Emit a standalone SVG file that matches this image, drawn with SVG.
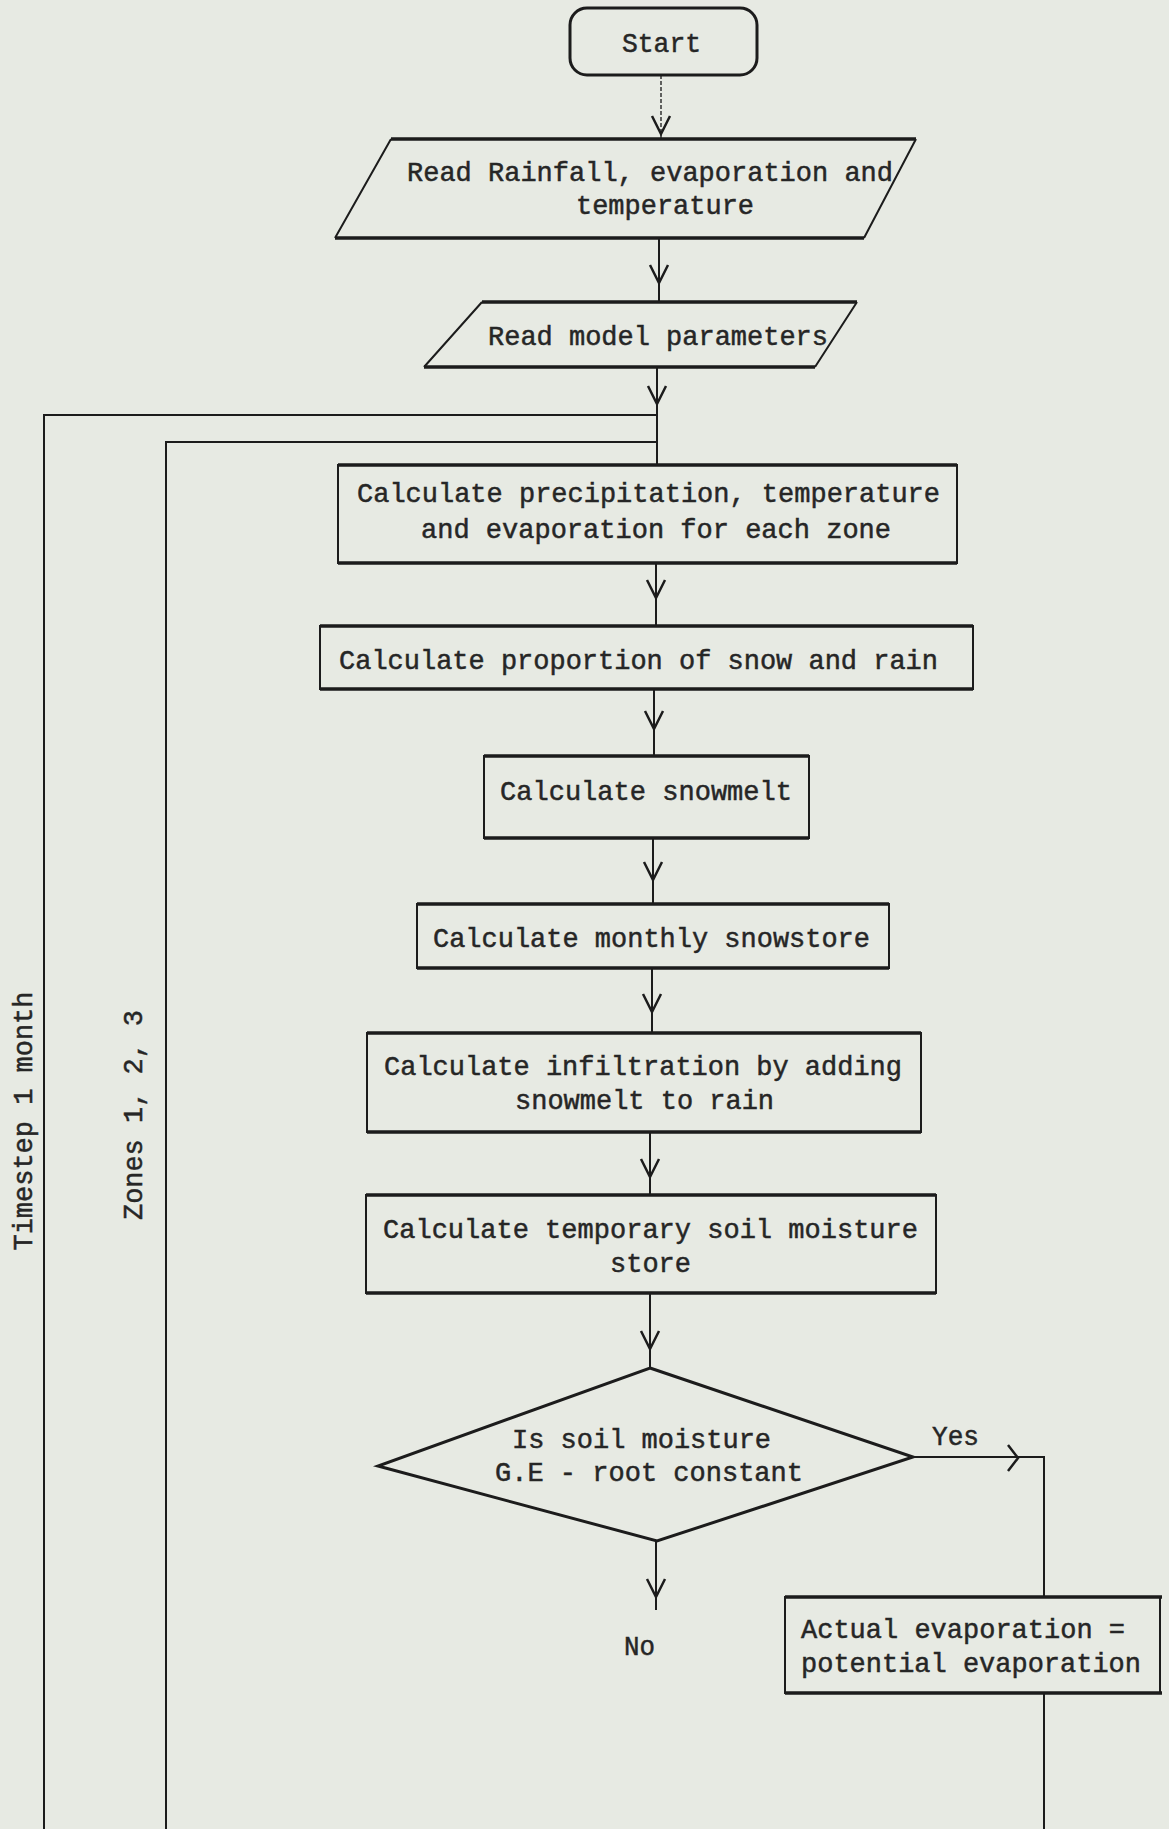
<svg xmlns="http://www.w3.org/2000/svg" xmlns:xlink="http://www.w3.org/1999/xlink" width="1169" height="1829" viewBox="0 0 1169 1829">
<style>
.bg{fill:#e7eae3}
.shape{fill:none;stroke:#1c1c1c;stroke-width:2}
.edge{fill:none;stroke:#1c1c1c;stroke-width:3.5}
.conn{fill:none;stroke:#1c1c1c;stroke-width:2}
.dot{fill:none;stroke:#333;stroke-width:1.5;stroke-dasharray:4 2}
.chev{fill:none;stroke:#1c1c1c;stroke-width:2.5;stroke-linejoin:miter}
.t{font-family:"Liberation Mono","DejaVu Sans Mono",monospace;font-size:28px;fill:#262626;stroke:#262626;stroke-width:0.5}
</style>
<defs>
<path id="chevDown" d="M-9,-18 L0,0 L9,-18"/>
<path id="chevRight" d="M-10,-13 L0,0 L-10,13"/>
</defs>
<rect class="bg" x="0" y="0" width="1169" height="1829"/>

<g id="connectors">
<line class="dot" x1="661" y1="75" x2="661" y2="139"/>
<use href="#chevDown" class="chev" x="661" y="134"/>
<line class="conn" x1="659" y1="238" x2="659" y2="302"/>
<use href="#chevDown" class="chev" x="659" y="283"/>
<line class="conn" x1="657" y1="367" x2="657" y2="465"/>
<use href="#chevDown" class="chev" x="657" y="404"/>
<path class="conn" d="M657,415 H44 V1829"/>
<path class="conn" d="M657,442 H166 V1829"/>
<line class="conn" x1="656" y1="563" x2="656" y2="626"/>
<use href="#chevDown" class="chev" x="656" y="598"/>
<line class="conn" x1="654" y1="689" x2="654" y2="756"/>
<use href="#chevDown" class="chev" x="654" y="729"/>
<line class="conn" x1="653" y1="838" x2="653" y2="904"/>
<use href="#chevDown" class="chev" x="653" y="880"/>
<line class="conn" x1="652" y1="968" x2="652" y2="1033"/>
<use href="#chevDown" class="chev" x="652" y="1012"/>
<line class="conn" x1="650" y1="1132" x2="650" y2="1195"/>
<use href="#chevDown" class="chev" x="650" y="1177"/>
<line class="conn" x1="650" y1="1293" x2="650" y2="1368"/>
<use href="#chevDown" class="chev" x="650" y="1349"/>
<path class="conn" d="M913,1457 H1044 V1597"/>
<use href="#chevRight" class="chev" x="1018" y="1458"/>
<line class="conn" x1="656" y1="1541" x2="656" y2="1610"/>
<use href="#chevDown" class="chev" x="656" y="1597"/>
<line class="conn" x1="1044" y1="1693" x2="1044" y2="1829"/>
<text class="t" x="932" y="1445" textLength="47" lengthAdjust="spacingAndGlyphs">Yes</text>
<text class="t" x="624" y="1655" textLength="31" lengthAdjust="spacingAndGlyphs">No</text>
</g>

<g id="loop-labels">
<text class="t" transform="translate(32,1121) rotate(-90)" text-anchor="middle" textLength="259" lengthAdjust="spacingAndGlyphs">Timestep 1 month</text>
<text class="t" transform="translate(142,1115) rotate(-90)" text-anchor="middle" textLength="210" lengthAdjust="spacingAndGlyphs">Zones 1, 2, 3</text>
</g>

<g id="start">
<rect class="shape" x="570" y="8" width="187" height="67" rx="17" style="stroke-width:3"/>
<text class="t" x="622" y="52" textLength="79" lengthAdjust="spacingAndGlyphs">Start</text>
</g>

<g id="read-rainfall">
<path class="shape" d="M391,139 L335,238 M916,139 L864,238"/>
<path class="edge" d="M391,139 H916 M335,238 H864"/>
<text class="t" x="407" y="181" textLength="486" lengthAdjust="spacingAndGlyphs">Read Rainfall, evaporation and</text>
<text class="t" x="576" y="214" textLength="178" lengthAdjust="spacingAndGlyphs">temperature</text>
</g>

<g id="read-parameters">
<path class="shape" d="M482,302 L424,367 M857,302 L815,367"/>
<path class="edge" d="M482,302 H857 M424,367 H815"/>
<text class="t" x="488" y="345" textLength="340" lengthAdjust="spacingAndGlyphs">Read model parameters</text>
</g>

<g id="calc-zone">
<rect class="shape" x="338" y="465" width="619" height="98"/>
<path class="edge" d="M338,465 H957 M338,563 H957"/>
<text class="t" x="357" y="502" textLength="583" lengthAdjust="spacingAndGlyphs">Calculate precipitation, temperature</text>
<text class="t" x="421" y="538" textLength="470" lengthAdjust="spacingAndGlyphs">and evaporation for each zone</text>
</g>

<g id="calc-proportion">
<rect class="shape" x="320" y="626" width="653" height="63"/>
<path class="edge" d="M320,626 H973 M320,689 H973"/>
<text class="t" x="339" y="669" textLength="599" lengthAdjust="spacingAndGlyphs">Calculate proportion of snow and rain</text>
</g>

<g id="calc-snowmelt">
<rect class="shape" x="484" y="756" width="325" height="82"/>
<path class="edge" d="M484,756 H809 M484,838 H809"/>
<text class="t" x="500" y="800" textLength="292" lengthAdjust="spacingAndGlyphs">Calculate snowmelt</text>
</g>

<g id="calc-snowstore">
<rect class="shape" x="417" y="904" width="472" height="64"/>
<path class="edge" d="M417,904 H889 M417,968 H889"/>
<text class="t" x="433" y="947" textLength="437" lengthAdjust="spacingAndGlyphs">Calculate monthly snowstore</text>
</g>

<g id="calc-infiltration">
<rect class="shape" x="367" y="1033" width="554" height="99"/>
<path class="edge" d="M367,1033 H921 M367,1132 H921"/>
<text class="t" x="384" y="1075" textLength="518" lengthAdjust="spacingAndGlyphs">Calculate infiltration by adding</text>
<text class="t" x="515" y="1109" textLength="259" lengthAdjust="spacingAndGlyphs">snowmelt to rain</text>
</g>

<g id="calc-soil-moisture">
<rect class="shape" x="366" y="1195" width="570" height="98"/>
<path class="edge" d="M366,1195 H936 M366,1293 H936"/>
<text class="t" x="383" y="1238" textLength="535" lengthAdjust="spacingAndGlyphs">Calculate temporary soil moisture</text>
<text class="t" x="610" y="1272" textLength="81" lengthAdjust="spacingAndGlyphs">store</text>
</g>

<g id="decision">
<polygon class="shape" points="650,1368 913,1457 657,1541 378,1466" style="stroke-width:3"/>
<text class="t" x="512" y="1448" textLength="259" lengthAdjust="spacingAndGlyphs">Is soil moisture</text>
<text class="t" x="495" y="1481" textLength="308" lengthAdjust="spacingAndGlyphs">G.E - root constant</text>
</g>

<g id="actual-evaporation">
<rect class="shape" x="785" y="1597" width="375" height="96"/>
<path class="edge" d="M785,1597 H1162 M785,1693 H1162"/>
<text class="t" x="801" y="1638" textLength="324" lengthAdjust="spacingAndGlyphs">Actual evaporation =</text>
<text class="t" x="801" y="1672" textLength="340" lengthAdjust="spacingAndGlyphs">potential evaporation</text>
</g>
</svg>
